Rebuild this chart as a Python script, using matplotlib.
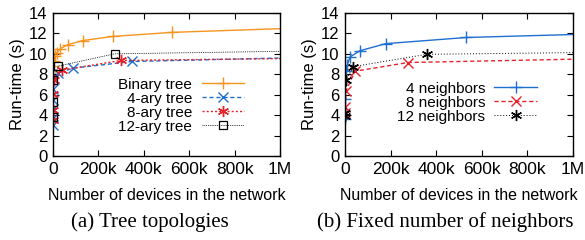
import matplotlib
matplotlib.use("Agg")
import matplotlib.pyplot as plt
from matplotlib.ticker import FixedLocator

plt.rcParams['font.family'] = ['Liberation Sans', 'DejaVu Sans']

# (a) tree topologies: number of devices vs run-time (s)
binary_x = [1023, 2047, 4095, 8191, 16383, 32767, 65535, 131071, 262143, 524287, 1048575]
binary_y = [8.3, 8.8, 9.3, 9.8, 10.1, 10.5, 10.9, 11.3, 11.7, 12.1, 12.5]

ary4_x = [5, 21, 85, 341, 1365, 5461, 21845, 87381, 349525, 1398101]
ary4_y = [3.0, 3.7, 4.6, 5.5, 6.6, 7.5, 8.1, 8.6, 9.25, 9.8]

ary8_x = [9, 73, 585, 4681, 37449, 299593, 2396745]
ary8_y = [3.5, 4.5, 6.1, 7.4, 8.4, 9.35, 9.9]

ary12_x = [13, 157, 1885, 22621, 271453, 3257437]
ary12_y = [3.8, 5.3, 7.4, 8.8, 10.0, 11.0]

# (b) fixed number of neighbors
n4_x = [100, 1000, 4000, 10000, 22500, 65000, 180000, 533000, 1500000]
n4_y = [3.6, 5.6, 8.3, 8.9, 9.7, 10.3, 11.0, 11.6, 12.2]

n8_x = [100, 1000, 5000, 44000, 277000, 1500000]
n8_y = [4.2, 4.8, 6.4, 8.3, 9.15, 9.7]

n12_x = [100, 1000, 5000, 36000, 358000, 1500000]
n12_y = [3.9, 4.2, 7.4, 8.75, 9.95, 10.25]

xticks = [0, 200000, 400000, 600000, 800000, 1000000]
xtick_labels = ['0', '200k', '400k', '600k', '800k', '1M']

orange = '#f7941d'
blue = '#1f6fd0'
red = '#e8222a'
black = '#000000'
asterisk = (6, 2, 0)

fig = plt.figure(figsize=(5.85, 2.4), dpi=100)
ax1 = fig.add_axes([0.0906, 0.35, 0.388, 0.596])
ax2 = fig.add_axes([0.5897, 0.35, 0.3897, 0.596])

ax1.plot(binary_x, binary_y, color=orange, lw=1.0, marker='+', ms=8, mew=1.0, label='Binary tree')
ax1.plot(ary4_x, ary4_y, color=blue, lw=1.0, ls=(0, (3, 2)), marker='x', ms=7, mew=1.0, label='4-ary tree')
ax1.plot(ary8_x, ary8_y, color=red, lw=1.0, ls=(0, (1.5, 1.5)), marker=asterisk, ms=8, mew=1.0, label='8-ary tree')
ax1.plot(ary12_x, ary12_y, color=black, lw=0.6, ls=(0, (1, 1.2)), marker='s', ms=6, mew=0.9,
         mfc='none', label='12-ary tree')

ax2.plot(n4_x, n4_y, color=blue, lw=1.0, marker='+', ms=8, mew=1.0, label='4 neighbors')
ax2.plot(n8_x, n8_y, color=red, lw=1.0, ls=(0, (3, 2)), marker='x', ms=7, mew=1.0, label='8 neighbors')
ax2.plot(n12_x, n12_y, color=black, lw=0.7, ls=(0, (1, 2)), marker=asterisk, ms=8, mew=1.0,
         label='12 neighbors')

for ax in (ax1, ax2):
    ax.set_xlim(0, 1000000)
    ax.set_ylim(0, 14)
    ax.xaxis.set_major_locator(FixedLocator(xticks))
    ax.set_xticklabels(xtick_labels)
    ax.set_yticks(range(0, 15, 2))
    ax.tick_params(direction='in', top=True, right=True, length=4, width=0.8, pad=4)
    ax.tick_params(axis='x', labelsize=12.5)
    ax.tick_params(axis='y', labelsize=12)
    for s in ax.spines.values():
        s.set_linewidth(1.0)
    ax.set_ylabel('Run-time (s)', fontsize=12, labelpad=3)
    ax.set_xlabel('Number of devices in the network', fontsize=11.5, labelpad=8)

ax1.legend(loc='center right', bbox_to_anchor=(0.89, 0.353), frameon=False, markerfirst=False,
           fontsize=11, handlelength=2.8, handletextpad=0.6, labelspacing=0.0,
           borderpad=0.2)
ax2.legend(loc='center right', bbox_to_anchor=(0.89, 0.374), frameon=False, markerfirst=False,
           fontsize=11, handlelength=2.8, handletextpad=0.6, labelspacing=0.0,
           borderpad=0.2)

fig.text(0.256, 0.075, '(a) Tree topologies', ha='center', va='center',
         family=['Liberation Serif', 'DejaVu Serif'], fontsize=15)
fig.text(0.761, 0.075, '(b) Fixed number of neighbors', ha='center', va='center',
         family=['Liberation Serif', 'DejaVu Serif'], fontsize=15)

fig.savefig('out.png', dpi=100)
